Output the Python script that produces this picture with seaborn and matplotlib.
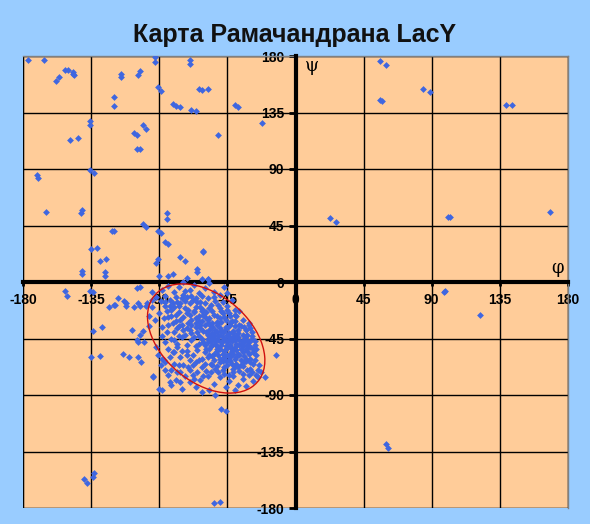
import matplotlib.pyplot as plt
import matplotlib.patches as mpatches
import seaborn as sns

plt.rcParams["axes.unicode_minus"] = False

# phi / psi angles (degrees)
outer_phi = [
    -177, -166, -93, -93, -70, -70, -152, -150, -147, -146, -147, -156, -158,
    -115, -115, -104, -103, -91, -89, -64, -62, -58, -120, -120, -81, -79, -76,
    -69, -66, -40, -38, -136, -136, -22, -149, -144, -107, -105, -101, -99, -51,
    -105, -103, -171, -170, -136, -133, -165, -142, -141, -85, -85, -101, -99,
    -121, -120, -91, -89, -86, -84, -135, -131, -61, -61, -129, -125, -76, -73,
    -91, -92, -65, -65, -141, -141, -126, -126, -90, -84, -81, -62, -58, -74,
    56, 60, 84, 89, 56, 57, 139, 143, 23, 27, 101, 102, 168, 99, 98, 122, 60, 61,
    -49, -46, -140, -138, -134, -133, -54, -50,
    -152, -151, -136, -134, -123, -120, -119, -117, -113, -112, -112, -107,
    -104, -103, -99, -98, -105, -103, -97, -95, -95, -128, -134, -108, -101,
    -103, -105, -104, -100, -114, -110, -104, -102, -135, -129, -94,
    -92, -94, -83, -82, -84, -82, -86, -87, -81, -89, -88, -90, -88, -76, -75,
    -78, -77, -13, -20, -31, -58, -72,
]
outer_psi = [
    177, 177, 179, 175, 177, 174, 169, 169, 167, 165, 166, 163, 160,
    166, 163, 165, 168, 155, 152, 154, 153, 154, 147, 140, 142, 140, 139,
    137, 136, 141, 139, 128, 125, 127, 113, 115, 119, 117, 125, 122, 117,
    106, 106, 85, 83, 89, 87, 56, 55, 57, 55, 50, 46, 44,
    41, 41, 41, 39, 32, 30, 26, 27, 25, 24, 17, 18, 20, 17,
    18, 15, 10, 8, 9, 6, 8, 5, 5, 5, 6, 2, 2, 0,
    176, 173, 154, 151, 145, 144, 141, 141, 51, 48, 52, 52, 56, -7, -8, -26, -129, -132,
    -101, -103, -157, -160, -155, -152, -176, -175,
    -7, -11, -7, -8, -20, -18, -18, -13, -15, -17, -19, -20,
    -17, -19, -19, -17, -5, -4, -27, -8, -14, -36, -39, -38, -39,
    -42, -46, -48, -48, -57, -60, -60, -64, -60, -59, -75,
    -52, -76, -80, -82, -74, -70, -64, -62, -56, -66, -61, -85, -86, -80, -85,
    -72, -66, -58, -76, -34, 2, 3,
]

# alpha-helix cluster
core_phi = [
    -88, -84, -80, -77, -74, -70, -67, -64, -60, -57, -54, -50, -47, -86, -72, -62, -45,
    -89, -86, -83, -80, -78, -75, -73, -70, -68, -66, -63, -61, -58, -56, -53, -50,
    -48, -45, -42, -40, -82, -71,
    -90, -87, -85, -82, -79, -77, -74, -72, -69, -67, -64, -62, -59, -57, -54, -52,
    -49, -47, -44, -42, -39, -37, -35, -60, -50,
    -88, -84, -80, -77, -74, -71, -69, -66, -63, -61, -58, -56, -53, -51, -48, -46,
    -43, -41, -38, -36, -33, -31, -29, -55, -45, -40, -65, -50,
    -82, -78, -75, -72, -69, -66, -64, -61, -58, -56, -53, -51, -49, -47, -45, -43,
    -41, -39, -37, -35, -33, -31, -29, -27, -55, -48, -42, -36, -60, -44, -52,
    -80, -76, -72, -68, -65, -62, -60, -57, -55, -52, -50, -48, -46, -44, -42, -40,
    -38, -36, -34, -32, -30, -28, -26, -47, -43, -39, -54, -58, -35,
    -74, -70, -66, -62, -59, -56, -53, -50, -48, -45, -43, -41, -39, -37, -35, -33,
    -30, -28, -25, -52, -46, -40, -34,
    -68, -63, -58, -54, -50, -47, -44, -41, -38, -35, -31, -28, -25, -46, -40, -33, -56,
    -57, -54, -51, -49, -46, -44, -42, -40, -38, -37, -35, -33, -31, -44, -47, -50,
    -53, -56, -59, -41, -39, -36, -34, -32, -30, -48, -45, -43, -52, -55, -62, -64,
    -67, -70, -73, -76, -79, -70, -66, -62, -77, -81, -73, -65,
    -58, -55, -52, -49, -46, -43, -40, -37, -34, -32, -30,
    -59, -56, -53, -50, -47, -44, -41, -38, -35, -32, -29, -27,
    -58, -55, -52, -49, -46, -43, -40, -37, -34, -31, -28, -26,
    -57, -54, -51, -48, -45, -42, -39, -36, -33, -30, -27, -24,
    -55, -51, -47, -44, -41, -38, -35, -32, -29, -26, -23,
    -60, -64, -68, -65, -61, -70, -72, -75, -78,
    -84, -81, -78, -75, -72, -69, -66, -63, -60,
    -86, -83, -79, -76, -73, -69, -66, -63, -60, -57, -54, -51,
    -88, -85, -86, -84, -80, -77,
    -67, -64, -61, -58, -55, -52, -48, -45, -43, -40,
    -95, -93, -92, -97, -91, -86, -80, -79, -73, -70, -66, -62, -57, -53,
    -71, -67, -83, -76,
]
core_psi = [
    -6, -3, -8, -4, -10, -6, -2, -9, -5, -1, -8, -10, -4, -11, -12, -11, -9,
    -15, -19, -14, -20, -16, -13, -21, -17, -14, -20, -16, -22, -13, -18, -15, -21,
    -16, -19, -14, -22, -22, -22,
    -25, -29, -23, -27, -31, -24, -28, -25, -30, -23, -27, -31, -24, -29, -26, -32,
    -23, -28, -25, -31, -27, -23, -30, -28, -29,
    -36, -34, -40, -35, -38, -33, -41, -36, -34, -39, -42, -35, -38, -33, -40, -36,
    -34, -39, -41, -35, -38, -33, -40, -41, -42, -35, -40, -37,
    -45, -49, -44, -50, -46, -51, -43, -48, -45, -51, -47, -43, -50, -45, -48, -52,
    -44, -49, -46, -51, -43, -48, -45, -50, -44, -47, -47, -49, -50, -45, -51,
    -56, -60, -55, -58, -54, -61, -56, -53, -59, -55, -61, -57, -53, -59, -55, -61,
    -57, -53, -59, -55, -61, -56, -53, -60, -57, -54, -57, -60, -56,
    -66, -70, -64, -68, -71, -65, -69, -64, -70, -66, -63, -69, -65, -71, -67, -63,
    -69, -65, -70, -67, -63, -67, -64,
    -74, -78, -75, -81, -76, -73, -79, -75, -82, -77, -74, -79, -76, -84, -86, -83, -72,
    -38, -42, -46, -39, -51, -41, -53, -46, -38, -58, -47, -53, -57, -62, -55, -53,
    -49, -47, -53, -57, -43, -62, -45, -50, -52, -44, -37, -60, -40, -33, -45, -49,
    -44, -38, -42, -30, -26, -26, -29, -23, -19, -17, -7, -16,
    -33, -36, -34, -32, -30, -33, -31, -34, -36, -42, -37,
    -40, -43, -45, -42, -39, -43, -41, -44, -42, -46, -43, -47,
    -48, -50, -53, -48, -46, -50, -52, -50, -48, -51, -53, -58,
    -58, -62, -58, -63, -58, -65, -60, -66, -61, -64, -62, -66,
    -66, -72, -68, -74, -72, -68, -73, -70, -72, -74, -72,
    -65, -62, -66, -72, -75, -62, -58, -55, -52,
    -28, -33, -37, -34, -37, -34, -33, -37, -34,
    -16, -19, -12, -17, -15, -11, -13, -20, -17, -21, -12, -18,
    -43, -40, -48, -53, -46, -43,
    -24, -31, -26, -30, -23, -27, -25, -22, -27, -26,
    -20, -30, -12, -35, -58, -70, -65, -78, -75, -80, -84, -88, -86, -90,
    -68, -77, -60, -72,
]

phi = outer_phi + core_phi
psi = outer_psi + core_psi
ticks = list(range(-180, 181, 45))

fig = plt.figure(figsize=(5.9, 5.24), dpi=100, facecolor="#99CCFF")
ax = fig.add_axes([23 / 590, 16 / 524, 545 / 590, 452 / 524])
ax.set_facecolor("#FFCC99")

sns.scatterplot(x=phi, y=psi, marker="D", s=12, color="#3F66E0",
                linewidth=0, ax=ax, zorder=3)

# helix region outline
ax.add_patch(mpatches.Ellipse((-59, -45), 98, 63, angle=-53,
                              fill=False, edgecolor="#D01010", lw=1, zorder=4))

ax.set_xlim(-180, 180)
ax.set_ylim(-180, 180)
ax.set_xticks(ticks)
ax.set_yticks(ticks)
ax.grid(True, color="black", lw=1)
ax.set_axisbelow(True)

for side in ["left", "bottom"]:
    ax.spines[side].set_position(("data", 0))
    ax.spines[side].set_linewidth(3)
    ax.spines[side].set_color("black")
    ax.spines[side].set_zorder(2.8)
for side in ["top", "right"]:
    ax.spines[side].set_color("#808080")
    ax.spines[side].set_linewidth(1)
ax.add_patch(mpatches.Rectangle((0, 0), 1, 1, transform=ax.transAxes, fill=False,
                                edgecolor="#808080", lw=1, zorder=0.5))

ax.tick_params(axis="x", direction="out", length=3, width=2, pad=5)
ax.tick_params(axis="y", direction="out", length=5, width=2, pad=3)
for lab in ax.get_xticklabels() + ax.get_yticklabels():
    lab.set_fontfamily("Liberation Sans")
    lab.set_fontweight("bold")
    lab.set_fontsize(10)
ax.set_xlabel("")
ax.set_ylabel("")

ax.text(11, 172, "ψ", fontsize=13, family="DejaVu Serif", ha="center", va="center")
ax.text(173, 11, "φ", fontsize=13, family="DejaVu Serif", ha="center", va="center")

fig.text(0.5, 1 - 35 / 524, "Карта Рамачандрана LacY", ha="center", va="center",
         fontsize=18, fontweight="bold", family="Liberation Sans", color="#111111")

fig.savefig("out.png", dpi=100, facecolor=fig.get_facecolor())
